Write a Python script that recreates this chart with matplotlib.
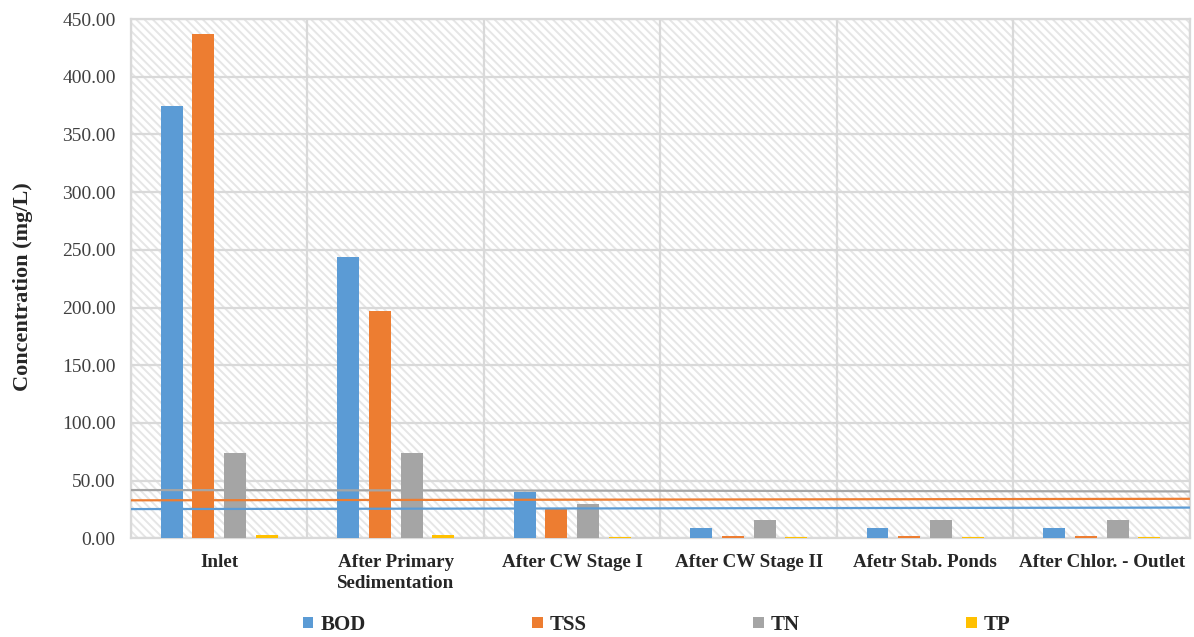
import matplotlib
matplotlib.use("Agg")
import matplotlib.pyplot as plt
import numpy as np
from matplotlib.patches import Rectangle
from matplotlib.ticker import FixedLocator

stages = [
    "Inlet",
    "After Primary\nSedimentation",
    "After CW Stage I",
    "After CW Stage II",
    "Afetr Stab. Ponds",
    "After Chlor. - Outlet",
]
series = ["BOD", "TSS", "TN", "TP"]
bod = [374.5, 243.5, 40.0, 8.8, 8.8, 8.8]
tss = [437.5, 197.3, 25.2, 2.3, 2.3, 2.3]
tn = [74.3, 74.3, 29.8, 16.2, 16.2, 16.2]
tp = [2.6, 2.6, 1.2, 1.0, 1.0, 1.0]

# discharge limit lines (BOD, TSS, TN), value at left and right edge
limit_left = [25.3, 32.9, 41.8]
limit_right = [26.6, 34.2, 40.6]

colors = ["#5B9BD5", "#ED7D31", "#A5A5A5", "#FFC000"]
grid_color = "#D9D9D9"

plt.rcParams["font.family"] = ["Liberation Serif", "DejaVu Serif"]
plt.rcParams["hatch.color"] = "#E6E6E6"
plt.rcParams["hatch.linewidth"] = 1.4

fig = plt.figure(figsize=(11.94, 6.37), dpi=100)
ax = fig.add_axes([0.1097, 0.155, 0.8869, 0.815])

# hatched plot background
ax.add_patch(Rectangle((0, 0), 1, 1, transform=ax.transAxes, facecolor="white",
                       edgecolor="#E6E6E6", linewidth=0, hatch="\\" * 4, zorder=0))

x = np.arange(len(stages))
step, width = 0.18, 0.124
for i, (name, vals) in enumerate(zip(series, [bod, tss, tn, tp])):
    ax.bar(x + (i - 1.5) * step, vals, width=width, color=colors[i], label=name, zorder=3)

for left, right, c in zip(limit_left, limit_right, colors[:3]):
    ax.plot([-0.5, len(stages) - 0.5], [left, right], color=c, lw=1.6, zorder=4,
            solid_capstyle="butt")

ax.set_xlim(-0.5, len(stages) - 0.5)
ax.set_ylim(0, 450)
ax.set_yticks(np.arange(0, 451, 50))
ax.set_yticklabels([f"{v:.2f}" for v in np.arange(0, 451, 50)])
ax.set_xticks(x)
ax.set_xticklabels(stages, fontweight="bold", fontsize=13.7, color="#262626",
                   linespacing=1.35)
ax.xaxis.set_minor_locator(FixedLocator(np.arange(-0.5, len(stages), 1.0)))
ax.tick_params(axis="x", which="both", length=0, pad=11)
ax.tick_params(axis="y", length=0, pad=11, labelsize=14, labelcolor="#404040")

ax.grid(axis="y", color=grid_color, lw=1.6, zorder=1)
ax.grid(axis="x", which="minor", color=grid_color, lw=1.6, zorder=1)
ax.set_axisbelow(True)
for s in ax.spines.values():
    s.set_color(grid_color)
    s.set_linewidth(1.6)

ax.set_ylabel("Concentration (mg/L)", fontsize=16, fontweight="bold", color="#262626")
ax.yaxis.set_label_coords(-0.0925, 0.485)

fig.legend(loc="center", bbox_to_anchor=(0.55, 0.019), ncol=4, frameon=False,
           prop={"weight": "bold", "size": 15}, handlelength=0.5, handleheight=0.5,
           handletextpad=0.34, columnspacing=8.0, labelcolor="#262626",
           borderpad=0)

fig.savefig("out.png", dpi=100, facecolor="white")
